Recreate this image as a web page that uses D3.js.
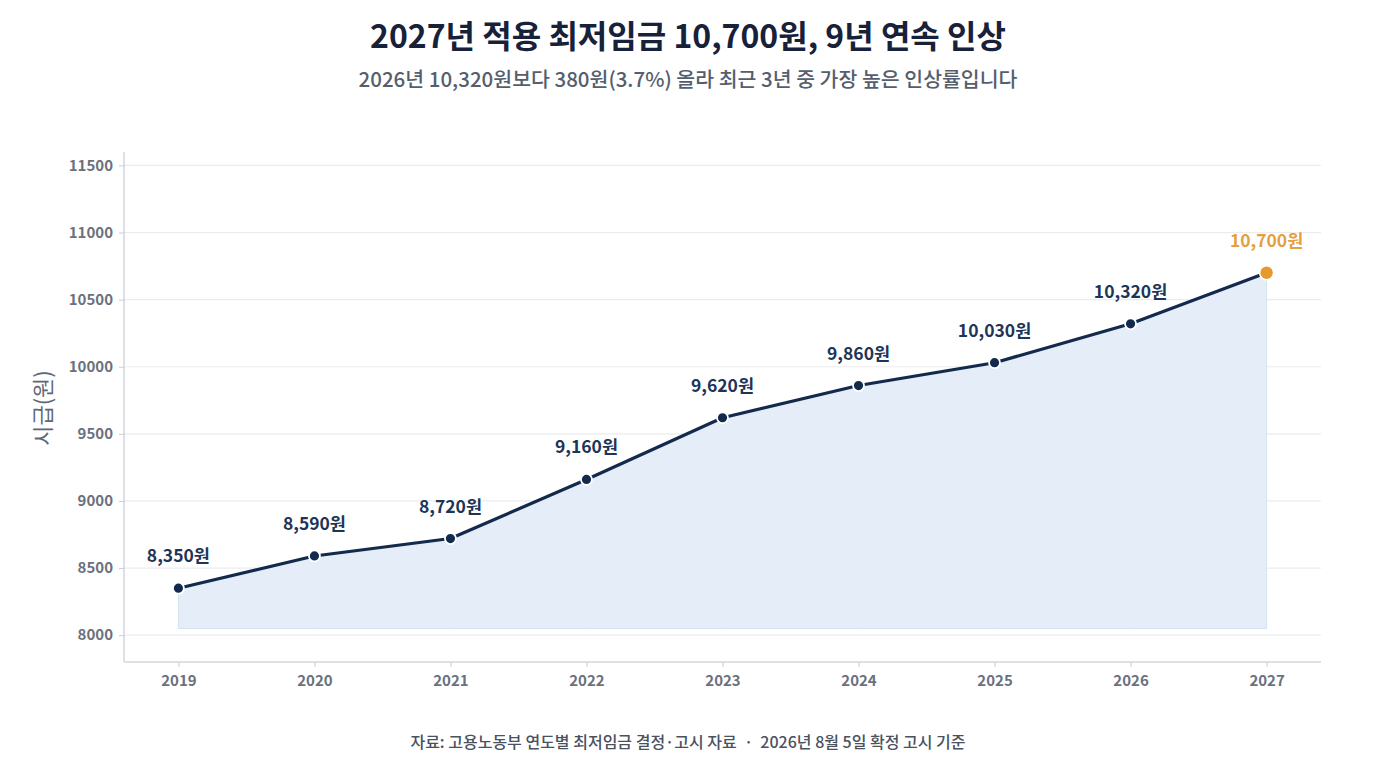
<!DOCTYPE html>
<html><head><meta charset="utf-8">
<script src="https://cdn.jsdelivr.net/npm/d3@7"></script>
<style>
html,body{margin:0;padding:0;background:#fff;}
svg{display:block;font-family:"Noto Sans CJK KR","Noto Sans",sans-serif;}
</style></head>
<body>
<svg id="chart" width="1376" height="768"></svg>
<script>
const years = ["2019","2020","2021","2022","2023","2024","2025","2026","2027"];
const wages = [8350, 8590, 8720, 9160, 9620, 9860, 10030, 10320, 10700];
const yTicks = [8000, 8500, 9000, 9500, 10000, 10500, 11000, 11500];
const title = "2027년 적용 최저임금 10,700원, 9년 연속 인상";
const subtitle = "2026년 10,320원보다 380원(3.7%) 올라 최근 3년 중 가장 높은 인상률입니다";
const footer = "자료: 고용노동부 연도별 최저임금 결정·고시 자료  ·  2026년 8월 5일 확정 고시 기준";
const yTitle = "시급(원)";
const areaBase = 8050;

const data = years.map((y,i)=>({year:y, v:wages[i]}));
const svg = d3.select("#chart");
const L=124, R=1321, T=152, B=662;

const x = d3.scalePoint().domain(years).range([L,R]).padding(0.4);
const y = d3.scaleLinear().domain([7800,11600]).range([B,T]);

// title
svg.append("text").attr("x",688).attr("y",48).attr("text-anchor","middle")
  .attr("font-size",32).attr("font-weight",700).attr("fill","#17213a").text(title);
svg.append("text").attr("x",688).attr("y",87).attr("text-anchor","middle")
  .attr("font-size",20.5).attr("font-weight",500).attr("fill","#555e6e").text(subtitle);

// gridlines
svg.append("g").selectAll("line").data(yTicks).join("line")
  .attr("x1",L).attr("x2",R).attr("y1",d=>y(d)).attr("y2",d=>y(d))
  .attr("stroke","#eaecf0").attr("stroke-width",1.2);

// area
const area = d3.area().x(d=>x(d.year)).y0(y(areaBase)).y1(d=>y(d.v));
svg.append("path").datum(data).attr("d",area)
  .attr("fill","#e4edf8").attr("stroke","#d6e2f1").attr("stroke-width",1);

// axes
const yAxis = d3.axisLeft(y).tickValues(yTicks).tickSize(5).tickPadding(6).tickFormat(d3.format("d"));
const gy = svg.append("g").attr("transform",`translate(${L},0)`).call(yAxis);
gy.select(".domain").attr("d",`M0,${T}V${B}`).attr("stroke","#d3d6dc").attr("stroke-width",1.5);
gy.selectAll(".tick line").attr("stroke","#c9ccd2");
gy.selectAll(".tick text").attr("font-size",15).attr("font-weight",700).attr("fill","#6b717d")
  .attr("font-family","'Noto Sans CJK KR','Noto Sans',sans-serif");

const xAxis = d3.axisBottom(x).tickSize(5).tickPadding(8);
const gx = svg.append("g").attr("transform",`translate(0,${B})`).call(xAxis);
gx.select(".domain").attr("d",`M${L},0H${R}`).attr("stroke","#d3d6dc").attr("stroke-width",1.5);
gx.selectAll(".tick line").attr("stroke","#c9ccd2");
gx.selectAll(".tick text").attr("font-size",15).attr("font-weight",700).attr("fill","#6b717d")
  .attr("font-family","'Noto Sans CJK KR','Noto Sans',sans-serif");

// y title
svg.append("text").attr("transform",`translate(51,${(T+B)/2+1}) rotate(-90)`)
  .attr("text-anchor","middle").attr("font-size",22).attr("fill","#606776").text(yTitle);

// line
const line = d3.line().x(d=>x(d.year)).y(d=>y(d.v));
svg.append("path").datum(data).attr("d",line)
  .attr("fill","none").attr("stroke","#132a4c").attr("stroke-width",3.2)
  .attr("stroke-linejoin","round").attr("stroke-linecap","round");

const last = data.length-1;
// points
svg.append("g").selectAll("circle").data(data).join("circle")
  .attr("cx",d=>x(d.year)).attr("cy",d=>y(d.v))
  .attr("r",(d,i)=>i===last?7:5.5)
  .attr("fill",(d,i)=>i===last?"#e59a2f":"#132a4c")
  .attr("stroke","#fff").attr("stroke-width",(d,i)=>i===last?1.5:1.8);

// labels
const fmt = d3.format(",");
svg.append("g").selectAll("text").data(data).join("text")
  .attr("x",d=>x(d.year)).attr("y",d=>y(d.v)-26)
  .attr("text-anchor","middle").attr("font-size",17.5).attr("font-weight",700)
  .attr("fill",(d,i)=>i===last?"#e3a042":"#1d3557")
  .text(d=>fmt(d.v)+"원");

// footer
svg.append("text").attr("x",688).attr("y",748).attr("text-anchor","middle")
  .attr("font-size",16).attr("font-weight",500).attr("fill","#4a5160").attr("xml:space","preserve").text(footer);
</script>
</body></html>
